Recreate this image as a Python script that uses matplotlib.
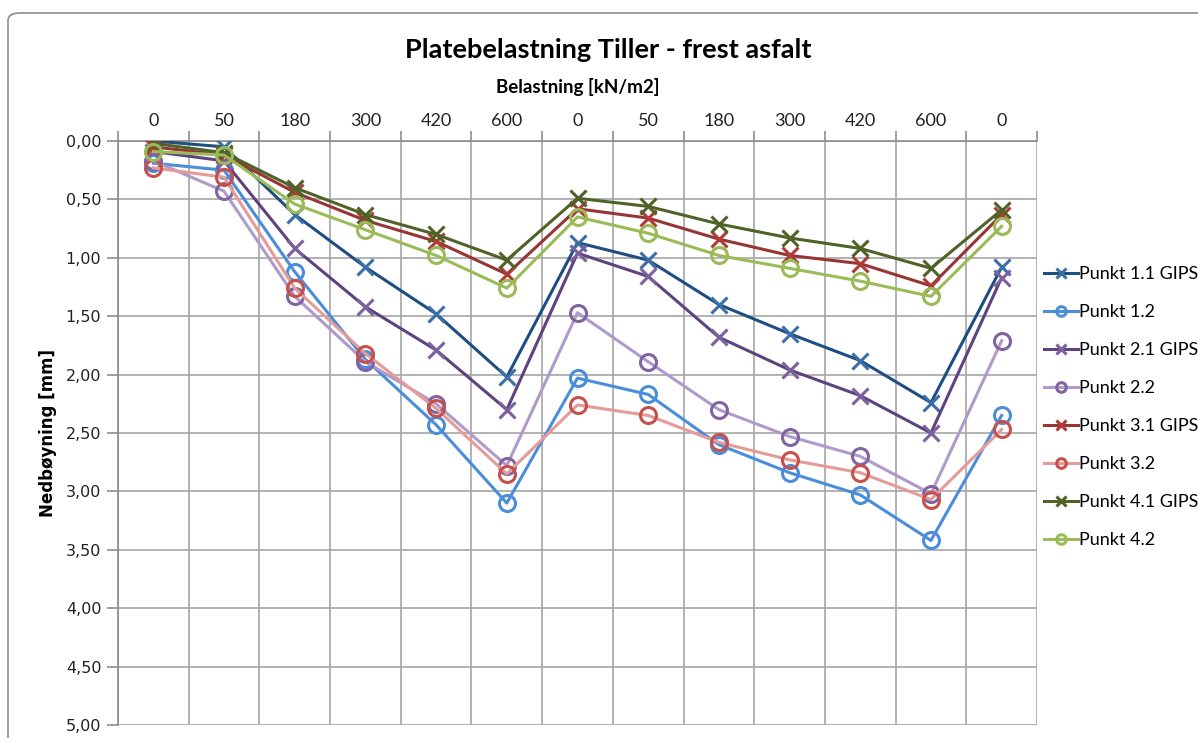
import numpy as np
import matplotlib.pyplot as plt
from matplotlib.patches import FancyBboxPatch

belastning = ['0', '50', '180', '300', '420', '600', '0', '50', '180', '300', '420', '600', '0']

punkt_11 = [0.00, 0.05, 0.63, 1.08, 1.48, 2.02, 0.87, 1.02, 1.40, 1.65, 1.88, 2.24, 1.08]
punkt_12 = [0.19, 0.25, 1.12, 1.87, 2.43, 3.10, 2.03, 2.17, 2.60, 2.84, 3.03, 3.42, 2.35]
punkt_21 = [0.09, 0.17, 0.92, 1.42, 1.79, 2.30, 0.96, 1.16, 1.68, 1.96, 2.18, 2.50, 1.17]
punkt_22 = [0.17, 0.43, 1.33, 1.89, 2.25, 2.78, 1.47, 1.89, 2.30, 2.53, 2.70, 3.02, 1.71]
punkt_31 = [0.05, 0.12, 0.44, 0.68, 0.86, 1.14, 0.58, 0.66, 0.84, 0.98, 1.05, 1.24, 0.63]
punkt_32 = [0.23, 0.31, 1.26, 1.82, 2.29, 2.85, 2.26, 2.35, 2.58, 2.73, 2.84, 3.07, 2.47]
punkt_41 = [0.02, 0.10, 0.40, 0.63, 0.80, 1.02, 0.49, 0.56, 0.71, 0.83, 0.92, 1.09, 0.59]
punkt_42 = [0.09, 0.12, 0.54, 0.76, 0.98, 1.26, 0.65, 0.79, 0.98, 1.09, 1.20, 1.33, 0.73]

series = [
    ('Punkt 1.1 GIPS', punkt_11, 'x', '#1F4E80', '#3C6EA8'),
    ('Punkt 1.2', punkt_12, 'o', '#4A8EDB', '#4A8EDB'),
    ('Punkt 2.1 GIPS', punkt_21, 'x', '#5E447E', '#7D60A0'),
    ('Punkt 2.2', punkt_22, 'o', '#AE9BCB', '#8064A2'),
    ('Punkt 3.1 GIPS', punkt_31, 'x', '#963634', '#B03A36'),
    ('Punkt 3.2', punkt_32, 'o', '#E59C98', '#C8504C'),
    ('Punkt 4.1 GIPS', punkt_41, 'x', '#4F6228', '#4F6228'),
    ('Punkt 4.2', punkt_42, 'o', '#9BBB59', '#9BBB59'),
]

fig = plt.figure(figsize=(11.98, 7.38), dpi=100)

# chart frame
frame = FancyBboxPatch((8 / 1198, -0.1), 1.2, 1.1 - 13 / 738,
                       boxstyle='round,pad=0,rounding_size=0.01',
                       transform=fig.transFigure, fill=False,
                       edgecolor='#8C8C8C', linewidth=1.2)
fig.patches.append(frame)

ax = fig.add_axes([118 / 1198, 1 - 725 / 738, (1037 - 118) / 1198, (725 - 141) / 738])

x = np.arange(len(belastning))
for name, vals, mk, lc, mc in series:
    if mk == 'x':
        ax.plot(x, vals, color=lc, lw=2.2, marker='x', markersize=11.5,
                markeredgewidth=2.2, markeredgecolor=mc, label=name, zorder=3)
    else:
        ax.plot(x, vals, color=lc, lw=2.2, marker='o', markersize=11.5,
                markeredgewidth=2.2, markeredgecolor=mc, markerfacecolor='none',
                label=name, zorder=3)

ax.set_xlim(-0.5, len(belastning) - 0.5)
ax.set_ylim(5, 0)
ax.set_yticks(np.arange(0, 5.01, 0.5))
ax.set_yticklabels([f'{v:.2f}'.replace('.', ',') for v in np.arange(0, 5.01, 0.5)],
                   fontsize=11.5, family='DejaVu Sans', color='#222222')
ax.xaxis.tick_top()
ax.set_xticks(x)
ax.set_xticklabels(belastning, fontsize=13, family='Lato', color='#222222')
ax.set_xticks(np.arange(-0.5, len(belastning), 1), minor=True)
ax.tick_params(axis='x', which='major', length=0, pad=9)
ax.tick_params(axis='x', which='minor', length=7, color='#8C8C8C', width=1.2, top=True)
ax.tick_params(axis='y', length=8, color='#8C8C8C', width=1.2, pad=4)

ax.grid(True, which='minor', axis='x', color='#A6A6A6', lw=1.2)
ax.grid(True, which='major', axis='y', color='#A6A6A6', lw=1.2)
for side in ['left', 'top']:
    ax.spines[side].set_color('#8C8C8C')
    ax.spines[side].set_linewidth(1.2)
for side in ['right', 'bottom']:
    ax.spines[side].set_visible(False)

ax.set_ylabel('Nedbøyning [mm]', fontsize=12, fontweight='bold', family='DejaVu Sans', labelpad=6)

fig.text(608 / 1198, 1 - 50 / 738, 'Platebelastning Tiller - frest asfalt', ha='center', va='center',
         fontsize=19.5, fontweight='bold', family='Lato')
fig.text(578 / 1198, 1 - 87 / 738, 'Belastning [kN/m2]', ha='center', va='center',
         fontsize=13.5, fontweight='bold', family='Lato')

# legend sits at the right edge; the long labels run past the figure border
handles, labels = ax.get_legend_handles_labels()
leg = fig.legend(handles, labels, loc='upper left', bbox_to_anchor=(1037 / 1198, 1 - 259 / 738),
                 frameon=False, prop={'family': 'Lato', 'size': 13}, labelspacing=1.22,
                 handlelength=1.85, handletextpad=0.1, markerscale=0.6, borderaxespad=0)

fig.savefig('out.png', dpi=100)
